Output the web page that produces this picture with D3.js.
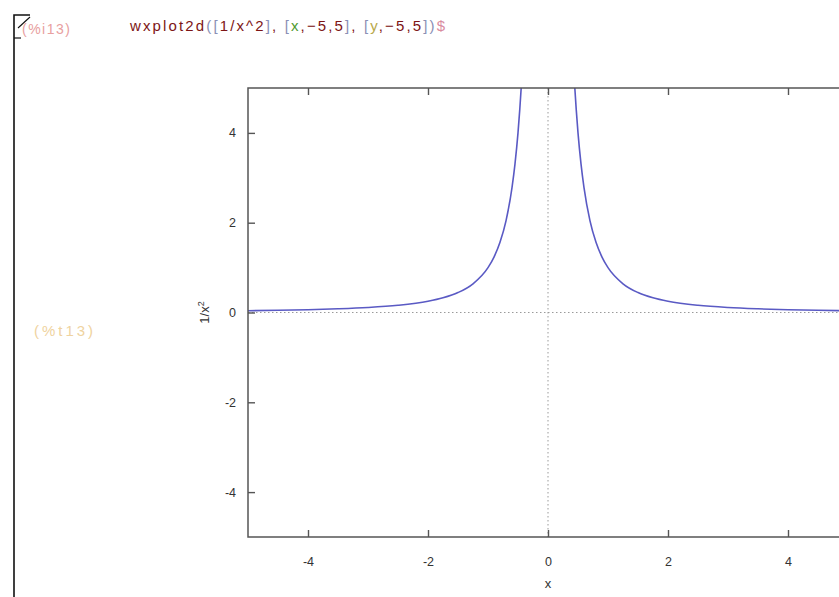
<!DOCTYPE html>
<html>
<head>
<meta charset="utf-8">
<script src="https://cdn.jsdelivr.net/npm/d3@7"></script>
<style>
  html, body { margin: 0; padding: 0; background: #fff; }
  svg { display: block; font-family: "Liberation Sans", Arial, sans-serif; }
</style>
</head>
<body>
<svg id="chart" width="839" height="597"></svg>
<script>
// Sampled points of y = 1/x^2 on both sides of the pole
const leftX  = [-5, -4.5, -4, -3.5, -3, -2.5, -2, -1.75, -1.5, -1.25, -1, -0.9, -0.8, -0.7, -0.6, -0.55, -0.5, -0.47, -0.447];
const leftY  = [0.04, 0.049, 0.0625, 0.082, 0.111, 0.16, 0.25, 0.327, 0.444, 0.64, 1.0, 1.235, 1.5625, 2.04, 2.78, 3.31, 4.0, 4.53, 5.0];
const rightX = [0.447, 0.47, 0.5, 0.55, 0.6, 0.7, 0.8, 0.9, 1, 1.25, 1.5, 1.75, 2, 2.5, 3, 3.5, 4, 4.5, 5];
const rightY = [5.0, 4.53, 4.0, 3.31, 2.78, 2.04, 1.5625, 1.235, 1.0, 0.64, 0.444, 0.327, 0.25, 0.16, 0.111, 0.082, 0.0625, 0.049, 0.04];

const xTicks = [-4, -2, 0, 2, 4];
const yTicks = [-4, -2, 0, 2, 4];
const xDomain = [-5, 5];
const yDomain = [-5, 5];

const svg = d3.select("#chart");

// Plot frame geometry
const plotL = 248, plotR = 848, plotT = 88, plotB = 537;
const x = d3.scaleLinear().domain(xDomain).range([plotL, plotR]);
const y = d3.scaleLinear().domain(yDomain).range([plotB, plotT]);

// Cell bracket on the left
const bracket = svg.append("g").attr("stroke", "#111").attr("fill", "none").attr("stroke-width", 1.6);
bracket.append("path").attr("d", "M14,597 L14,15 L30,15");
bracket.append("path").attr("d", "M18,28 L30,17").attr("stroke-width", 1.1);
bracket.append("path").attr("d", "M14,38 L21,38").attr("stroke-width", 1.2);

// Input label and command
svg.append("text").attr("x", 22).attr("y", 34).attr("font-size", 14)
  .attr("textLength", 48).attr("lengthAdjust", "spacing")
  .attr("fill", "#e8a0a0").text("(%i13)");

const cmd = svg.append("text").attr("x", 130).attr("y", 31).attr("font-size", 15)
  .attr("textLength", 315).attr("lengthAdjust", "spacing");
const parts = [
  ["wxplot2d", "#7d1515"], ["(", "#8a8fb5"], ["[", "#8a8fb5"], ["1/", "#7d1515"], ["x", "#7d1515"],
  ["^2", "#7d1515"], ["]", "#8a8fb5"], [", ", "#7d1515"], ["[", "#8a8fb5"], ["x", "#4f9a2f"],
  [",", "#7d1515"], ["\u22125,5", "#7d1515"], ["]", "#8a8fb5"], [", ", "#7d1515"], ["[", "#8a8fb5"],
  ["y", "#b9a94a"], [",", "#7d1515"], ["\u22125,5", "#7d1515"], ["]", "#8a8fb5"], [")", "#8a8fb5"],
  ["$", "#d98aa0"]
];
parts.forEach(([t, c]) => cmd.append("tspan").attr("fill", c).text(t));

// Output label
svg.append("text").attr("x", 34).attr("y", 336).attr("font-size", 15)
  .attr("textLength", 59).attr("lengthAdjust", "spacing")
  .attr("fill", "#efd3a0").text("(%t13)");

// Clip region for the curve
svg.append("clipPath").attr("id", "plotClip")
  .append("rect").attr("x", plotL).attr("y", plotT).attr("width", plotR - plotL).attr("height", plotB - plotT);

// Dotted zero axes
const zero = svg.append("g").attr("stroke", "#9a9a9a").attr("stroke-width", 1).attr("stroke-dasharray", "1.5,2.5");
zero.append("line").attr("x1", x(0)).attr("x2", x(0)).attr("y1", plotT).attr("y2", plotB);
zero.append("line").attr("x1", plotL).attr("x2", plotR).attr("y1", y(0)).attr("y2", y(0));

// Curve
const line = d3.line().x(d => x(d[0])).y(d => y(d[1])).curve(d3.curveMonotoneX);
const branches = [d3.zip(leftX, leftY), d3.zip(rightX, rightY)];
svg.append("g").attr("clip-path", "url(#plotClip)")
  .selectAll("path").data(branches).join("path")
  .attr("d", line).attr("fill", "none").attr("stroke", "#5a5ac4").attr("stroke-width", 1.6);

// Axes with inward ticks on all four sides
const tickLen = 7;
const fmt = d => String(d);
const axisBottom = d3.axisBottom(x).tickValues(xTicks).tickSize(-tickLen).tickPadding(20).tickFormat(fmt);
const axisTop = d3.axisTop(x).tickValues(xTicks).tickSize(-tickLen).tickFormat("");
const axisLeft = d3.axisLeft(y).tickValues(yTicks).tickSize(-tickLen).tickPadding(12).tickFormat(fmt);
const axisRight = d3.axisRight(y).tickValues(yTicks).tickSize(-tickLen).tickFormat("");

function styleAxis(g) {
  g.select(".domain").remove();
  g.selectAll(".tick line").attr("stroke", "#555").attr("stroke-width", 1.4);
  g.selectAll(".tick text").attr("fill", "#333").attr("font-size", 12.5)
    .attr("font-family", "\"Liberation Sans\", Arial, sans-serif");
}
svg.append("g").attr("transform", `translate(0,${plotB})`).call(axisBottom).call(styleAxis);
svg.append("g").attr("transform", `translate(0,${plotT})`).call(axisTop).call(styleAxis);
svg.append("g").attr("transform", `translate(${plotL},0)`).call(axisLeft).call(styleAxis);
svg.append("g").attr("transform", `translate(${plotR},0)`).call(axisRight).call(styleAxis);

// Frame
svg.append("rect").attr("x", plotL).attr("y", plotT).attr("width", plotR - plotL).attr("height", plotB - plotT)
  .attr("fill", "none").attr("stroke", "#555").attr("stroke-width", 1.5);

// Axis titles
svg.append("text").attr("x", x(0)).attr("y", 588).attr("text-anchor", "middle")
  .attr("font-size", 13).attr("fill", "#333").text("x");
const yl = svg.append("text").attr("transform", `translate(209,${y(0)}) rotate(-90)`)
  .attr("text-anchor", "middle").attr("font-size", 13).attr("fill", "#333");
yl.append("tspan").text("1/x");
yl.append("tspan").attr("font-size", 9).attr("dy", -5).text("2");
</script>
</body>
</html>
